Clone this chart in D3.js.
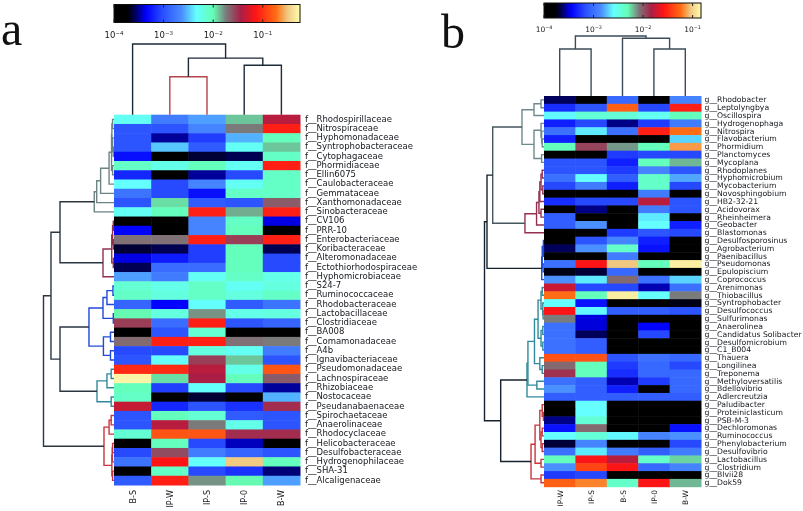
<!DOCTYPE html>
<html><head><meta charset="utf-8">
<script src="https://cdn.jsdelivr.net/npm/d3@7"></script>
<style>html,body{margin:0;padding:0;background:#fff}svg{display:block;filter:blur(.45px)}text{font-family:"DejaVu Sans";fill:#14181d}</style>
</head><body><svg id="c" width="803" height="511"></svg>
<script>
// ---------- data: log10 relative abundance ----------
const familySamples = ["B-S","IP-W","IP-S","IP-0","B-W"];
const familyTaxa = ["Rhodospirillaceae","Nitrospiraceae","Hyphomonadaceae","Syntrophobacteraceae","Cytophagaceae","Phormidiaceae","Ellin6075","Caulobacteraceae","Gemmataceae","Xanthomonadaceae","Sinobacteraceae","CV106","PRR-10","Enterobacteriaceae","Koribacteraceae","Alteromonadaceae","Ectothiorhodospiraceae","Hyphomicrobiaceae","S24-7","Ruminococcaceae","Rhodobacteraceae","Lactobacillaceae","Clostridiaceae","BA008","Comamonadaceae","A4b","Ignavibacteriaceae","Pseudomonadaceae","Lachnospiraceae","Rhizobiaceae","Nostocaceae","Pseudanabaenaceae","Spirochaetaceae","Anaerolinaceae","Rhodocyclaceae","Helicobacteraceae","Desulfobacteraceae","Hydrogenophilaceae","SHA-31","Alcaligenaceae"];
const familyValues = [
[-2.3,-2.75,-2.6,-1.9,-1.4],[-3,-3,-2.7,-1.75,-1.1],[-3,-3.5,-3.1,-2.55,-2.05],[-3,-2.5,-2.95,-2.3,-1.9],[-3.3,-3.9,-3.65,-3.6,-2.1],
[-2.1,-2.25,-2.05,-2.3,-1.1],[-3.2,-3.9,-3.5,-3.05,-2.1],[-2.35,-3.05,-2.7,-2.3,-2.1],[-2.8,-3.05,-3.3,-2.1,-2.1],[-3,-1.95,-2.95,-3,-1.65],
[-2.3,-2.05,-1.1,-1.85,-1.1],[-3.75,-3.85,-2.7,-2.1,-3.4],[-3.35,-3.85,-2.7,-2.05,-3.9],[-1.72,-1.72,-1.1,-1.55,-1.1],[-3.65,-3.6,-3.1,-2.05,-3.6],
[-3.4,-3.25,-3.1,-2.05,-3.05],[-3.6,-2.85,-2.85,-2.05,-3.05],[-2.6,-2.75,-2.3,-2.1,-2.25],[-2.15,-2.25,-2.1,-2.3,-2.2],[-2.1,-2.2,-2.1,-2.2,-2.1],
[-2.9,-3.35,-2.35,-2.95,-2.8],[-2,-2.2,-1.8,-2.25,-2.2],[-1.55,-2.85,-1.1,-3,-2.9],[-3.9,-3,-2.15,-3.9,-3.9],[-1.7,-1.1,-1.1,-1.72,-1.75],
[-3.05,-3.05,-2.2,-2.3,-2.75],[-3,-2.33,-1.55,-1.9,-3],[-1.05,-1.05,-1.4,-2.25,-.85],[-.3,-1.95,-1.45,-2.05,-1.65],[-2.05,-3.1,-2.33,-3.05,-3.5],
[-2.1,-3.9,-3.65,-3.85,-2.55],[-1.35,-3.2,-3,-3.15,-1.5],[-3,-2.05,-2.15,-2.95,-3],[-3,-1.4,-1.75,-2.25,-3],[-2.15,-.85,-.85,-1.5,-1.5],
[-3.75,-2.05,-3.05,-3.45,-3.85],[-3.05,-1.6,-2.75,-2.9,-3],[-2.8,-1.15,-2.33,-.5,-2.05],[-3.75,-2.1,-3.05,-3.15,-3.55],[-2.95,-1.1,-1.8,-2,-2.6]];
const genusSamples = ["IP-W","IP-S","B-S","IP-0","B-W"];
const genusTaxa = ["Rhodobacter","Leptolyngbya","Oscillospira","Hydrogenophaga","Nitrospira","Flavobacterium","Phormidium","Planctomyces","Mycoplana","Rhodoplanes","Hyphomicrobium","Mycobacterium","Novosphingobium","HB2-32-21","Acidovorax","Rheinheimera","Geobacter","Blastomonas","Desulfosporosinus","Agrobacterium","Paenibacillus","Pseudomonas","Epulopiscium","Coprococcus","Arenimonas","Thiobacillus","Syntrophobacter","Desulfococcus","Sulfurimonas","Anaerolinea","Candidatus Solibacter","Desulfomicrobium","C1_B004","Thauera","Longilinea","Treponema","Methyloversatilis","Bdellovibrio","Adlercreutzia","Paludibacter","Proteiniclasticum","PSB-M-3","Dechloromonas","Ruminococcus","Phenylobacterium","Desulfovibrio","Lactobacillus","Clostridium","Blvii28","Dok59"];
const genusValues = [
[-3.65,-3.87,-3.05,-3.87,-2.9],[-3.3,-3.15,-1.3,-3.2,-1.55],[-2.62,-2.45,-2.45,-2.55,-2.35],[-3.35,-3.2,-3.6,-3.25,-2.95],[-3,-2.65,-3,-1.55,-1.25],
[-3.35,-3.87,-3.87,-3.87,-2.7],[-2.35,-1.95,-2.15,-2.35,-1.15],[-3.87,-3.87,-3.25,-3.2,-3.2],[-3.15,-3.15,-3.35,-2.35,-2.2],[-3.15,-3.15,-3.25,-2.9,-3.15],
[-3,-2.6,-3.1,-2.4,-2.8],[-3.2,-2.95,-3.35,-2.4,-3.2],[-3.87,-3.87,-3.87,-2.95,-3.87],[-3.3,-3.2,-3.2,-1.8,-3.15],[-3.87,-3.6,-3.87,-2.95,-3.15],
[-3.1,-3.87,-3.87,-2.65,-3.87],[-3.1,-2.85,-3.87,-2.6,-3.35],[-3.87,-3.87,-3.25,-3.15,-3.2],[-3.87,-3.15,-2.9,-3.35,-3.87],[-3.65,-2.85,-2.4,-3.4,-3.87],
[-3.87,-3.87,-2.95,-3.87,-3.87],[-3,-1.6,-1.05,-2.35,-.9],[-3.75,-3.7,-3.05,-3.87,-3.87],[-2.85,-2.65,-2.05,-3,-2.7],[-1.75,-3.2,-3.2,-3.55,-3],
[-1.25,-2.35,-.9,-2.6,-2.1],[-2.6,-3.4,-3.87,-3.87,-3.75],[-1.6,-2.62,-3.1,-3.1,-3.15],[-2.1,-3.5,-3.87,-3.87,-3.87],[-3,-3.5,-3.87,-3.45,-3.87],
[-3,-3.65,-3.87,-3.2,-3.87],[-3,-3.1,-3.87,-3.87,-3.87],[-3,-3.1,-3.87,-3.87,-3.87],[-1.35,-1.35,-3.15,-3,-3.05],[-2.05,-2.35,-3.25,-3.05,-3.2],
[-1.9,-2.35,-3.3,-3.05,-3.05],[-3,-3.1,-3.55,-3.25,-3.05],[-2.85,-3.1,-3.35,-3.8,-3.05],[-3.1,-3.1,-3.1,-3.1,-3.1],[-3.87,-2.6,-3.87,-3.87,-3.87],
[-3.87,-2.6,-3.87,-3.87,-3.87],[-3.6,-2.45,-3.87,-3.87,-3.87],[-3.4,-2.05,-3.87,-3.87,-3.4],[-2.6,-2.45,-2.62,-2.9,-2.85],[-3.7,-2.9,-3.87,-3.87,-3.2],
[-3,-2.65,-2.95,-3.1,-2.95],[-2.35,-1.6,-1.8,-2.4,-2.25],[-2.85,-1.4,-1.6,-3.05,-2.9],[-3.25,-3.2,-3.87,-3.87,-3.87],[-1.3,-1.2,-2.4,-1.6,-2.2]];

// dendrograms: [height, left, right, colour?]; a number is a leaf index
const familyColumnTree = [1,0,[.8,[.537,1,2,"#b4454f"],[.7,3,4,"#1d2a38"]],"#1d2a38"];
const genusColumnTree = [1,[.783,0,1],[.962,2,[.783,3,4]],"#3c4c58"];
const familyRowTree = [1,
 [.894,
  [.766,
   [.28,[.245,[.19,[.07,[.035,[.03,[.02,0,1],[.02,2,[.01,3,4]]],[.02,5,6]],7],8],9],10,"#6d8484"],
   [.156,[.032,[.02,[.01,11,12],[.01,13,14]],[.01,15,16]],17,"#93304f"]],
  [.766,
   [.355,[.156,[.1,[.015,18,19],20],[.01,21,22]],[.15,[.05,23,24],[.05,25,26]],"#1f4ad8"],
   [.241,[.1,[.04,27,28],29],[.04,30,31],"#2f8a9a"]]],
 [.142,[.07,[.04,32,33],34],[.03,[.025,[.02,35,36],37],[.02,38,39]],"#c8353c"],"#2a3640"];
const genusRowTree = [1,
 [.958,
  [.862,
   [.37,[.168,[.05,0,1],2],[.168,[.05,3,[.04,4,[.03,5,6]]],[.04,7,8]],"#6f8a8e"],
   [.32,[.125,[.085,[.07,[.05,[.03,9,10],[.02,11,12]],13],[.05,14,15]],16],17,"#93304f"],"#46585f"],
  [.038,[.03,[.01,18,[.01,19,20]],[.015,21,22]],23,"#1f4ad8"]],
 [.728,
  [.286,[.27,[.16,[.1,[.05,[.03,24,25],[.02,26,[.015,27,28]]],[.05,[.02,29,30],[.02,31,32]]],[.07,33,[.03,34,35]]],[.12,36,37]],38,"#2f8a9a"],
  [.218,[.15,[.07,[.03,39,[.01,40,41]],[.05,[.03,42,43],[.03,44,45]]],[.05,46,47]],[.05,48,49],"#c8353c"]],"#16222e"];
const colourStops = [0,.07,.11,.17,.26,.36,.44,.53,.6,.68,.76,.87,.93,1];
const colourRamp = ["#000000","#000000","#00005a","#0000ff","#2a50ff","#4a8cff","#64ffff","#64ffb4","#7a7a7a","#aa1e46","#ff1414","#ff6e14","#f0c880","#ffffb0"];
const colourTicks = [-4,-3,-2,-1];

// ---------- drawing ----------
const svg = d3.select("#c");
function panel(o){
  const g = svg.append("g");
  const color = d3.scaleLinear().domain(colourStops.map(t=>o.lo+t*(o.hi-o.lo))).range(colourRamp).clamp(true);
  const x = d3.scaleBand().domain(d3.range(o.samples.length)).range([o.x0,o.x1]);
  const y = d3.scaleBand().domain(d3.range(o.taxa.length)).range([o.y0,o.y1]);
  o.values.forEach((row,r)=>g.selectAll(null).data(row).join("rect")
    .attr("x",(d,c)=>x(c)).attr("y",y(r)).attr("width",x.bandwidth()+.5).attr("height",y.bandwidth()+.5)
    .attr("fill",d=>color(d)));
  // row labels
  g.selectAll(null).data(o.taxa).join("text")
    .attr("x",o.x1+o.labelGap).attr("y",(d,i)=>y(i)+y.bandwidth()/2+o.labelDy)
    .attr("font-size",o.labelSize).text(d=>o.prefix+d);
  // column labels
  g.selectAll(null).data(o.samples).join("text")
    .attr("text-anchor","end").attr("font-size",o.colSize)
    .attr("transform",(d,i)=>`translate(${x(i)+x.bandwidth()/2+3},${o.colY}) rotate(-90)`).text(d=>d);
  // dendrograms
  const hx = d3.scaleLinear([0,1],[o.x0,o.rowRoot]), hy = d3.scaleLinear([0,1],[o.y0,o.colRoot]);
  function walk(n,stroke,bandC,out){
    if(typeof n==="number") return {p:bandC(n),h:0};
    const col = n[3]||stroke;
    const a = walk(n[1],col,bandC,out), b = walk(n[2],col,bandC,out);
    out.push({a,b,h:n[0],col});
    return {p:(a.p+b.p)/2,h:n[0]};
  }
  const rowSegs=[],colSegs=[];
  walk(o.rowTree,"#222",i=>y(i)+y.bandwidth()/2,rowSegs);
  walk(o.colTree,"#222",i=>x(i)+x.bandwidth()/2,colSegs);
  g.selectAll(null).data(rowSegs).join("path").attr("fill","none").attr("stroke",d=>d.col).attr("stroke-width",1.4)
    .attr("d",d=>d3.line()([[hx(d.a.h),d.a.p],[hx(d.h),d.a.p],[hx(d.h),d.b.p],[hx(d.b.h),d.b.p]]));
  g.selectAll(null).data(colSegs).join("path").attr("fill","none").attr("stroke",d=>d.col).attr("stroke-width",1.4)
    .attr("d",d=>d3.line()([[d.a.p,hy(d.a.h)],[d.a.p,hy(d.h)],[d.b.p,hy(d.h)],[d.b.p,hy(d.b.h)]]));
  // colour bar
  const cb = d3.scaleLinear([o.lo,o.hi],[o.x0,o.x1]);
  const steps = d3.range(0,o.x1-o.x0);
  g.selectAll(null).data(steps).join("rect").attr("x",d=>o.x0+d).attr("y",o.barY).attr("width",1.5).attr("height",o.barH)
    .attr("fill",d=>color(cb.invert(o.x0+d)));
  g.append("rect").attr("x",o.x0).attr("y",o.barY).attr("width",o.x1-o.x0).attr("height",o.barH)
    .attr("fill","none").attr("stroke","#111").attr("stroke-width",1);
  g.selectAll(null).data(colourTicks).join("path").attr("stroke","#222").attr("stroke-width",1)
    .attr("d",d=>`M${cb(d)},${o.barY}v3M${cb(d)},${o.barY+o.barH}v-3`);
  const t = g.selectAll(null).data(colourTicks).join("text").attr("text-anchor","middle")
    .attr("x",d=>cb(d)).attr("y",o.barLabelY).attr("font-size",o.barFont);
  t.append("tspan").text("10");
  t.append("tspan").attr("dy",-3).attr("font-size",o.barFont*.65).text(d=>"\u2212"+Math.abs(d));
  // panel letter
  g.append("text").attr("x",o.letterX).attr("y",o.letterY).attr("font-size",48)
    .style("font-family","'Liberation Serif'").style("fill","#111").text(o.letter);
}
panel({letter:"a",letterX:1,letterY:45,samples:familySamples,taxa:familyTaxa,values:familyValues,prefix:"f__",
  x0:114,x1:300,y0:114.7,y1:485,lo:-4,hi:-.25,rowTree:familyRowTree,colTree:familyColumnTree,rowRoot:43.5,colRoot:44,
  labelGap:5,labelDy:2.2,labelSize:8.5,colSize:8,colY:490,barY:4.5,barH:18,barLabelY:38,barFont:8.5});
panel({letter:"b",letterX:441,letterY:48,samples:genusSamples,taxa:genusTaxa,values:genusValues,prefix:"g__",
  x0:544,x1:701,y0:96,y1:486.7,lo:-4,hi:-.83,rowTree:genusRowTree,colTree:genusColumnTree,rowRoot:484.5,colRoot:36,
  labelGap:3.5,labelDy:2.4,labelSize:7.7,colSize:7.5,colY:490,barY:3,barH:15,barLabelY:32,barFont:7.5});
</script></body></html>
